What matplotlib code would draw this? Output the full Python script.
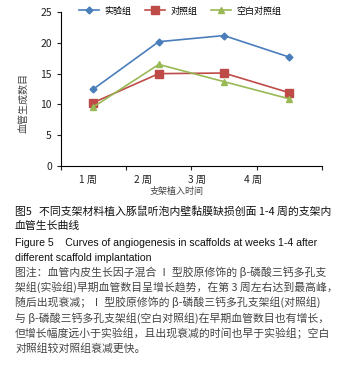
import matplotlib
matplotlib.use('Agg')
from matplotlib import pyplot as plt

plt.rcParams['font.family'] = ['Noto Sans CJK SC', 'DejaVu Sans']

weeks = ['1 周', '2 周', '3 周', '4 周']
exp_group = [12.5, 20.2, 21.2, 17.7]
ctrl_group = [10.3, 15.0, 15.1, 11.9]
blank_group = [9.6, 16.5, 13.7, 10.9]
yticks = [0, 5, 10, 15, 20, 25]

caption_cn = ['图5   不同支架材料植入豚鼠听泡内壁黏膜缺损创面 1-4 周的支架内',
              '血管生长曲线']
caption_en = ['Figure 5    Curves of angiogenesis in scaffolds at weeks 1-4 after',
              'different scaffold implantation']
note = ['图注：血管内皮生长因子混合 Ⅰ 型胶原修饰的 β-磷酸三钙多孔支',
        '架组(实验组)早期血管数目呈增长趋势，在第 3 周左右达到最高峰，',
        '随后出现衰减；Ⅰ 型胶原修饰的 β-磷酸三钙多孔支架组(对照组)',
        '与 β-磷酸三钙多孔支架组(空白对照组)在早期血管数目也有增长，',
        '但增长幅度远小于实验组，且出现衰减的时间也早于实验组；空白',
        '对照组较对照组衰减更快。']

fig = plt.figure(figsize=(3.58, 3.82), dpi=100)
ax = fig.add_axes([0.170, 0.566, 0.729, 0.402])

x = [i + 0.5 for i in range(len(weeks))]
ax.plot(x, exp_group, color='#4A7EBB', marker='D', markersize=3.5, lw=1.2, label='实验组')
ax.plot(x, ctrl_group, color='#BE4B48', marker='s', markersize=5.5, lw=1.2, label='对照组')
ax.plot(x, blank_group, color='#98B954', marker='^', markersize=5, lw=1.2, label='空白对照组')

ax.set_xlim(0, 4)
ax.set_ylim(0, 25)
ax.set_yticks(yticks)
ax.set_xticks([0, 1, 2, 3, 4])
ax.set_xticklabels([])
ax.tick_params(axis='both', length=3, width=0.8, labelsize=7.5, colors='#222222')
for s in ['top', 'right']:
    ax.spines[s].set_visible(False)
for s in ['left', 'bottom']:
    ax.spines[s].set_linewidth(0.8)

# week labels sit a bit left of the category centres
label_pos = [0.42, 1.26, 2.09, 2.94]
for p, w in zip(label_pos, weeks):
    ax.text(p, -2.3, w, ha='center', va='center', fontsize=7.3, color='#222222')

ax.set_ylabel('血管生成数目', fontsize=7.2, color='#444444')
ax.yaxis.set_label_coords(-0.126, 0.406)
ax.text(1.78, -4.2, '支架植入时间', ha='center', va='center', fontsize=6.5, color='#444444')

fig.legend(loc='center', bbox_to_anchor=(0.503, 0.971), ncol=3, frameon=False,
           fontsize=6.5, handlelength=2.2, columnspacing=1.5, handletextpad=0.6)

y = 1 - 212 / 382
for line in caption_cn:
    fig.text(0.042, y, line, fontsize=7.8, color='#111111', va='center', weight='medium')
    y -= 14 / 382
y -= 3 / 382
for line in caption_en:
    fig.text(0.042, y, line, fontsize=7.6, color='#111111', va='center', family='Liberation Sans')
    y -= 15 / 382
y += 1 / 382
for line in note:
    fig.text(0.042, y, line, fontsize=7.8, color='#444444', va='center')
    y -= 15.3 / 382

fig.savefig('out.png', dpi=100)
